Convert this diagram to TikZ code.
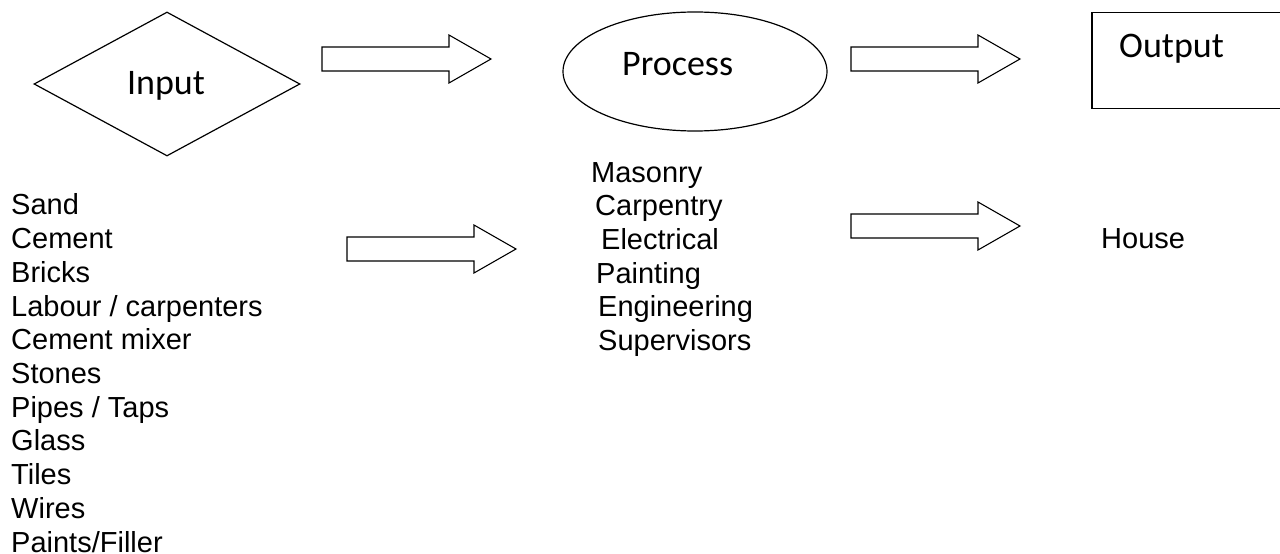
\documentclass[tikz,border=0pt]{standalone}
\usepackage{fontspec}
\setmainfont{Liberation Sans}
\newfontfamily\calfont{Carlito}
\usetikzlibrary{shapes.geometric}
\tikzset{
  outline/.style={draw=black, line width=1.2bp},
  lbl/.style={inner sep=0, font=\calfont\fontsize{36bp}{43bp}\selectfont},
  item/.style={inner sep=0, anchor=base west, font=\fontsize{29bp}{34bp}\selectfont},
  blockarrow/.pic={\draw[outline, line width=1.1bp] (0,-12) -- (127,-12) -- (127,-24) -- (169,0) -- (127,24) -- (127,12) -- (0,12) -- cycle;}
}
\begin{document}
\begin{tikzpicture}[x=1bp,y=-1bp]
\useasboundingbox[fill=white] (0,0) rectangle (1280,554);

% top row shapes
\node[diamond, outline, minimum width=266bp, minimum height=144bp, inner sep=0] (inputshape) at (167,84) {};
\node[lbl, anchor=base] (inputlbl) at (166,95) {Input};

\node[ellipse, outline, minimum width=264bp, minimum height=119bp, inner sep=0] (procshape) at (695,71.5) {};
\node[lbl, anchor=base west] (proclbl) at (622,76) {Process};

\begin{scope}
\clip (0,0) rectangle (1280,554);
\node[rectangle, draw=black, line width=1.5bp, minimum width=230bp, minimum height=96bp, inner sep=0, anchor=north west] (outbox) at (1091,12) {};
\end{scope}
\node[lbl, anchor=base west] (outlbl) at (1119,58) {Output};

% block arrows
\pic (arrA) at (322,59) {blockarrow};
\pic (arrB) at (851,59) {blockarrow};
\pic (arrC) at (347,249) {blockarrow};
\pic (arrD) at (851,226) {blockarrow};

% input list
\foreach \t [count=\i from 0] in {Sand,Cement,Bricks,Labour / carpenters,Cement mixer,Stones,Pipes / Taps,Glass,Tiles,Wires,Paints/Filler}
  \node[item] (in\i) at (11,215+33.7*\i) {\t};

% process list
\node[item] (p1) at (591,182.5) {Masonry};
\node[item] (p2) at (595,216) {Carpentry};
\node[item] (p3) at (601,250) {Electrical};
\node[item] (p4) at (596,283.5) {Painting};
\node[item] (p5) at (598,317) {Engineering};
\node[item] (p6) at (598,350.5) {Supervisors};

% output
\node[item] (house) at (1101,249) {House};
\end{tikzpicture}
\end{document}
